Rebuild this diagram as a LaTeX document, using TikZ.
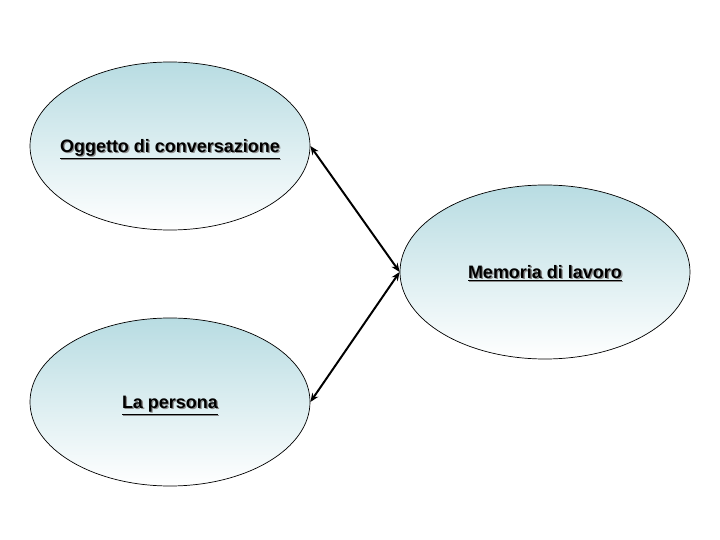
\documentclass[tikz,border=0pt]{standalone}
\usepackage{fontspec}
\setmainfont{Liberation Sans}
\usetikzlibrary{shapes.geometric, arrows.meta}
\definecolor{paleteal}{RGB}{184,220,226}
% underlined text with a grey drop shadow, boxed so the ellipse keeps its size
\newcommand{\shtext}[1]{\makebox[0pt]{\raisebox{-4.5pt}[0pt][0pt]{\makebox[0pt][l]{\hspace{0.9pt}\raisebox{-0.9pt}{\color{black!45}\underline{#1}}}\underline{#1}}}}

\begin{document}
\begin{tikzpicture}[
    bubble/.style={ellipse, draw=black, line width=0.5pt, inner sep=0pt,
                   top color=paleteal, bottom color=white,
                   font=\fontsize{12.8}{15}\selectfont\bfseries},
    link/.style={line width=1.4pt, {Stealth[length=2.2mm,width=1.8mm]}-{Stealth[length=2.2mm,width=1.8mm]}}]
  \useasboundingbox (0,0) rectangle (18,13.5);
  \node[bubble, minimum width=7cm, minimum height=4.2cm] (topic) at (4.25,9.85) {\shtext{Oggetto di conversazione}};
  \node[bubble, minimum width=7.25cm, minimum height=4.35cm] (memory) at (13.625,6.7) {\shtext{Memoria di lavoro}};
  \node[bubble, minimum width=7cm, minimum height=4.2cm] (person) at (4.25,3.45) {\shtext{La persona}};
  \draw[link] (topic.east) -- (memory.west);
  \draw[link] (person.east) -- (memory.west);
\end{tikzpicture}
\end{document}
